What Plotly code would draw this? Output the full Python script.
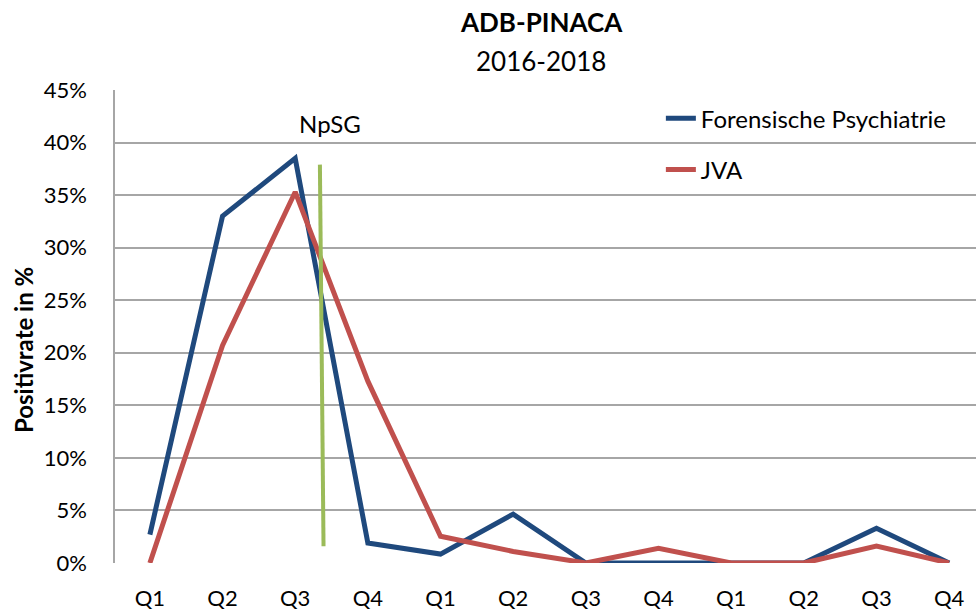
import plotly.graph_objects as go

quarters = ["Q1", "Q2", "Q3", "Q4", "Q1", "Q2", "Q3", "Q4", "Q1", "Q2", "Q3", "Q4"]
x_idx = list(range(len(quarters)))
forensisch = [2.7, 33.0, 38.5, 1.9, 0.85, 4.65, 0.0, 0.0, 0.0, 0.0, 3.3, 0.0]
jva = [0.0, 20.7, 35.3, 17.3, 2.55, 1.1, 0.0, 1.4, 0.0, 0.0, 1.6, 0.0]
npsg_x = [2.34, 2.39]
npsg_y = [37.9, 1.6]
npsg_label_pos = (2.48, 41.8)
y_ticks = [0, 5, 10, 15, 20, 25, 30, 35, 40, 45]
y_ticktext = [f"{v}%" for v in y_ticks]

FONT = "Lato"

fig = go.Figure()
fig.add_trace(go.Scatter(x=x_idx, y=forensisch, mode="lines", name="Forensische Psychiatrie",
                         line=dict(color="#1F497D", width=5), legendgroup="a"))
fig.add_trace(go.Scatter(x=x_idx, y=jva, mode="lines", name="JVA",
                         line=dict(color="#C0504D", width=5), legendgroup="b"))
fig.add_trace(go.Scatter(x=npsg_x, y=npsg_y, mode="lines", showlegend=False,
                         line=dict(color="#9BBB59", width=4)))

fig.add_annotation(x=npsg_label_pos[0], y=npsg_label_pos[1], text="NpSG", showarrow=False,
                   font=dict(family=FONT, size=24, color="black"))

# titles
fig.add_annotation(xref="paper", yref="paper", x=0.4948, y=1.1438, text="<b>ADB-PINACA</b>",
                   showarrow=False, xanchor="center", yanchor="middle",
                   font=dict(family=FONT, size=26, color="black"))
fig.add_annotation(xref="paper", yref="paper", x=0.4948, y=1.0613, text="2016-2018",
                   showarrow=False, xanchor="center", yanchor="middle",
                   font=dict(family=FONT, size=26, color="black"))
fig.add_annotation(xref="paper", yref="paper", x=-0.107, y=0.45, text="<b>Positivrate in %</b>",
                   showarrow=False, textangle=-90, xanchor="center", yanchor="middle",
                   font=dict(family=FONT, size=24, color="black"))

fig.update_layout(
    width=976, height=615,
    margin=dict(l=115, r=0, t=90, b=52),
    paper_bgcolor="white", plot_bgcolor="white",
    font=dict(family=FONT, color="black"),
    legend=dict(x=0.634, y=0.987, xanchor="left", yanchor="top",
                font=dict(family=FONT, size=24, color="black"),
                bgcolor="rgba(0,0,0,0)", tracegroupgap=17, traceorder="grouped"),
    xaxis=dict(range=[-0.48, 11.37], tickvals=x_idx, ticktext=quarters, showgrid=False,
               zeroline=False, showline=False, ticks="", tickfont=dict(family=FONT, size=22),
               ticklabelstandoff=20),
    yaxis=dict(range=[0, 45], tickvals=y_ticks, ticktext=y_ticktext, showgrid=True,
               gridcolor="#A6A6A6", gridwidth=1.5, zeroline=False, showline=True,
               linecolor="#A6A6A6", linewidth=1.5, ticks="",
               tickfont=dict(family=FONT, size=22), ticklabelstandoff=22),
)

fig.write_html("out.html", config={"displayModeBar": False},
               post_script="document.body.style.margin='0px';")
